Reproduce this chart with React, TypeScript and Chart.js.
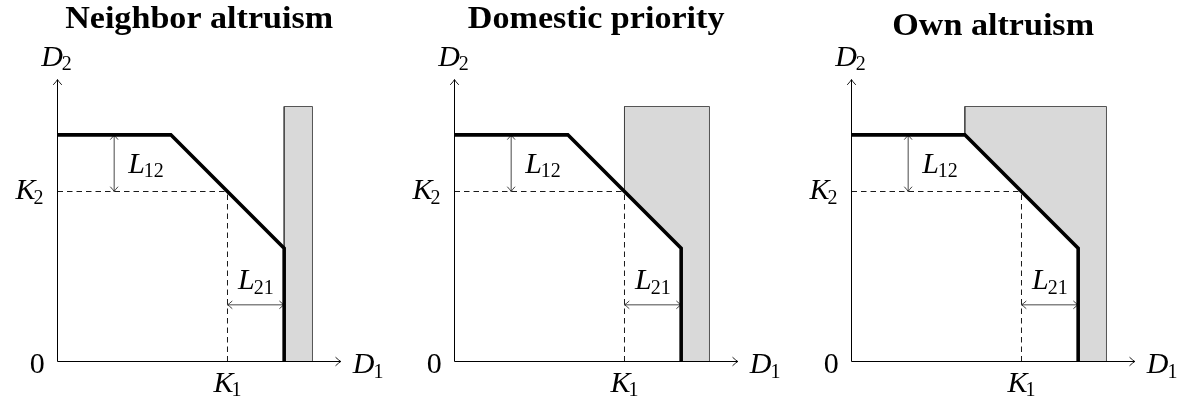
import { useEffect, useRef } from "react";
import { Chart, registerables } from "chart.js";

Chart.register(...registerables);

// Panel headings
const panelTitles = ["Neighbor altruism", "Domestic priority", "Own altruism"];

// Shaded region of each panel: x from shadeLeft to shadeRight, y up to shadeTop,
// lying above the frontier
const shadeLeft = [8, 6, 4];
const shadeRight = [9, 9, 9];
const shadeTop = [9, 9, 9];

// Frontier (D1, D2): flat, then 45-degree segment, then vertical
const frontierX = [0, 4, 8, 8];
const frontierY = [8, 8, 4, 0];

// Reference levels
const K1 = 6;
const K2 = 6;

// Where the gap markers are drawn
const L12AtX = 2;
const L21AtY = 2;

// Axis extent
const axisXEnd = 10;
const axisYEnd = 9.95;

// Page layout of the three panels (canvas left edge and origin offset)
const canvasLeft = [0, 397, 794];
const ORIGIN_X = 57.5;
const CANVAS_W = 396;
const CANVAS_H = 404;
const PLOT_SIZE = 283.33;
const ORIGIN_Y = 361.5;

const MATH_FONT = 30;
const SUB_FONT = 20;
const SERIF = '"Liberation Serif", "Times New Roman", serif';

// Frontier height at x, taken along its non-vertical pieces
function frontierAt(x: number): number {
  for (let i = 0; i < frontierX.length - 1; i++) {
    const x0 = frontierX[i];
    const x1 = frontierX[i + 1];
    if (x1 === x0) continue;
    if (x >= x0 && x <= x1) {
      const t = (x - x0) / (x1 - x0);
      return frontierY[i] + t * (frontierY[i + 1] - frontierY[i]);
    }
  }
  return 0;
}

function shadePolygon(p: number) {
  const a = shadeLeft[p];
  const top = shadeTop[p];
  const right = shadeRight[p];
  const fa = frontierAt(a);
  const pts = [
    { x: a, y: top },
    { x: a, y: fa },
  ];
  for (let i = 0; i < frontierX.length; i++) {
    if (frontierX[i] >= a && frontierY[i] < fa) {
      pts.push({ x: frontierX[i], y: frontierY[i] });
    }
  }
  pts.push({ x: right, y: 0 }, { x: right, y: top }, { x: a, y: top });
  return pts;
}

function arrowTip(
  ctx: CanvasRenderingContext2D,
  x: number,
  y: number,
  angle: number,
  len: number,
  half: number,
  width: number
) {
  ctx.save();
  ctx.translate(x, y);
  ctx.rotate(angle);
  ctx.lineWidth = width;
  ctx.strokeStyle = "#000";
  ctx.lineCap = "round";
  ctx.beginPath();
  ctx.moveTo(-len, -half);
  ctx.quadraticCurveTo(-len * 0.35, -half * 0.25, 0, 0);
  ctx.quadraticCurveTo(-len * 0.35, half * 0.25, -len, half);
  ctx.stroke();
  ctx.restore();
}

function mathLabel(
  ctx: CanvasRenderingContext2D,
  letter: string,
  sub: string,
  x: number,
  y: number,
  align: "left" | "center" | "right",
  subGap = 0,
  upright = false
) {
  const letterFont = `${upright ? "" : "italic "}${MATH_FONT}px ${SERIF}`;
  const subFont = `${SUB_FONT}px ${SERIF}`;
  ctx.font = letterFont;
  const wl = ctx.measureText(letter).width;
  ctx.font = subFont;
  const ws = sub ? ctx.measureText(sub).width : 0;
  const total = wl + (sub ? subGap + ws : 0);
  const x0 = align === "left" ? x : align === "center" ? x - total / 2 : x - total;
  ctx.fillStyle = "#000";
  ctx.textAlign = "left";
  ctx.textBaseline = "alphabetic";
  ctx.font = letterFont;
  ctx.fillText(letter, x0, y);
  if (sub) {
    ctx.font = subFont;
    ctx.fillText(sub, x0 + wl + subGap, y + 4.5);
  }
}

function Panel({ index }: { index: number }) {
  const ref = useRef<HTMLCanvasElement | null>(null);

  useEffect(() => {
    const canvas = ref.current;
    if (!canvas) return;

    const frontier = frontierX.map((x, i) => ({ x, y: frontierY[i] }));

    const annotate = {
      id: "panelAnnotations",
      afterDatasetsDraw(chart: Chart) {
        const ctx = chart.ctx;
        const xs = chart.scales.x;
        const ys = chart.scales.y;
        const ox = xs.getPixelForValue(0);
        const oy = ys.getPixelForValue(0);
        const axR = xs.getPixelForValue(axisXEnd);
        const axT = ys.getPixelForValue(axisYEnd);

        // axis arrow tips
        arrowTip(ctx, axR, oy, 0, 5, 4, 0.9);
        arrowTip(ctx, ox, axT, -Math.PI / 2, 5, 4, 0.9);

        // gap markers
        const l12x = xs.getPixelForValue(L12AtX);
        const l12a = ys.getPixelForValue(K2);
        const l12b = ys.getPixelForValue(frontierAt(L12AtX));
        arrowTip(ctx, l12x, l12a, Math.PI / 2, 4.5, 3.6, 0.75);
        arrowTip(ctx, l12x, l12b, -Math.PI / 2, 4.5, 3.6, 0.75);

        const l21y = ys.getPixelForValue(L21AtY);
        const l21a = xs.getPixelForValue(K1);
        const l21b = xs.getPixelForValue(frontierX[frontierX.length - 1]);
        arrowTip(ctx, l21a, l21y, Math.PI, 4.5, 3.6, 0.75);
        arrowTip(ctx, l21b, l21y, 0, 4.5, 3.6, 0.75);

        // axis and level labels
        mathLabel(ctx, "D", "2", ox - 1, axT - 14, "center", -1);
        mathLabel(ctx, "D", "1", axR + 12, oy + 11.6, "left", -1);
        mathLabel(ctx, "0", "", ox - 12.7, oy + 11.6, "right", 0, true);
        const k1x = xs.getPixelForValue(K1);
        const k2y = ys.getPixelForValue(K2);
        mathLabel(ctx, "K", "1", k1x, oy + 30, "center", -2);
        mathLabel(ctx, "K", "2", ox - 14, k2y + 7.5, "right", -2);
        mathLabel(ctx, "L", "12", l12x + 14, (l12a + l12b) / 2 + 9.5, "left", -1);
        mathLabel(ctx, "L", "21", (l21a + l21b) / 2, l21y - 15.7, "center", -1);

        // heading
        const title = panelTitles[index];
        ctx.save();
        ctx.font = `bold 31px ${SERIF}`;
        const m = ctx.measureText(title);
        const descent = m.actualBoundingBoxDescent > 2 ? m.actualBoundingBoxDescent : 0;
        const cx = xs.getPixelForValue(axisXEnd / 2);
        ctx.translate(cx, 35 - descent);
        ctx.scale(1.1, 1);
        ctx.textAlign = "center";
        ctx.textBaseline = "alphabetic";
        ctx.fillStyle = "#000";
        ctx.fillText(title, 0, 0);
        ctx.restore();
      },
    };

    const chart = new Chart(canvas, {
      type: "scatter",
      data: {
        datasets: [
          {
            label: "frontier",
            data: frontier,
            showLine: true,
            borderColor: "#000",
            borderWidth: 3.6,
            borderJoinStyle: "miter",
            borderCapStyle: "butt",
            pointRadius: 0,
            fill: false,
            clip: false,
          },
          {
            label: "L12",
            data: [
              { x: L12AtX, y: K2 },
              { x: L12AtX, y: frontierAt(L12AtX) },
            ],
            showLine: true,
            borderColor: "#1a1a1a",
            borderWidth: 0.8,
            pointRadius: 0,
            clip: false,
          },
          {
            label: "L21",
            data: [
              { x: K1, y: L21AtY },
              { x: frontierX[frontierX.length - 1], y: L21AtY },
            ],
            showLine: true,
            borderColor: "#1a1a1a",
            borderWidth: 0.8,
            pointRadius: 0,
            clip: false,
          },
          {
            label: "K1",
            data: [
              { x: K1, y: 0 },
              { x: K1, y: K2 },
            ],
            showLine: true,
            borderColor: "#000",
            borderWidth: 0.9,
            borderDash: [5.5, 4],
            pointRadius: 0,
            clip: false,
          },
          {
            label: "K2",
            data: [
              { x: 0, y: K2 },
              { x: K1, y: K2 },
            ],
            showLine: true,
            borderColor: "#000",
            borderWidth: 0.9,
            borderDash: [5.5, 4],
            pointRadius: 0,
            clip: false,
          },
          {
            label: "D1 axis",
            data: [
              { x: 0, y: 0 },
              { x: axisXEnd, y: 0 },
            ],
            showLine: true,
            borderColor: "#000",
            borderWidth: 1,
            pointRadius: 0,
            clip: false,
          },
          {
            label: "D2 axis",
            data: [
              { x: 0, y: 0 },
              { x: 0, y: axisYEnd },
            ],
            showLine: true,
            borderColor: "#000",
            borderWidth: 1,
            pointRadius: 0,
            clip: false,
          },
          {
            label: "region",
            data: shadePolygon(index),
            showLine: true,
            borderColor: "#444",
            borderWidth: 0.9,
            backgroundColor: "#d9d9d9",
            fill: "shape",
            pointRadius: 0,
            clip: false,
          },
        ],
      },
      options: {
        responsive: false,
        animation: false,
        events: [],
        layout: {
          padding: {
            left: ORIGIN_X,
            right: CANVAS_W - ORIGIN_X - PLOT_SIZE,
            top: ORIGIN_Y - PLOT_SIZE,
            bottom: CANVAS_H - ORIGIN_Y,
          },
        },
        scales: {
          x: { type: "linear", min: 0, max: 10, display: false },
          y: { type: "linear", min: 0, max: 10, display: false },
        },
        plugins: {
          legend: { display: false },
          tooltip: { enabled: false },
          title: { display: false },
        },
      },
      plugins: [annotate],
    });

    return () => chart.destroy();
  }, [index]);

  return (
    <canvas
      ref={ref}
      width={CANVAS_W}
      height={CANVAS_H}
      style={{
        position: "absolute",
        left: canvasLeft[index],
        top: 0,
        width: CANVAS_W,
        height: CANVAS_H,
      }}
    />
  );
}

export default function App() {
  return (
    <div
      style={{
        position: "fixed",
        left: 0,
        top: 0,
        width: 1190,
        height: 404,
        background: "#fff",
        overflow: "hidden",
      }}
    >
      {panelTitles.map((_, i) => (
        <Panel key={i} index={i} />
      ))}
    </div>
  );
}
